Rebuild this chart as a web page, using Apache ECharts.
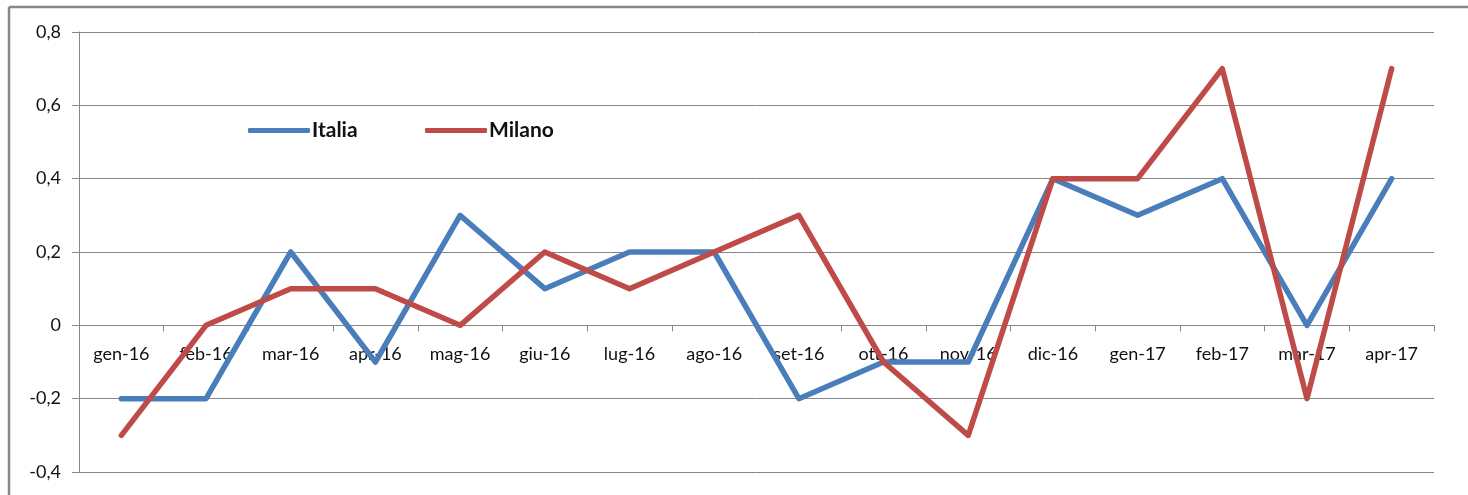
<!DOCTYPE html>
<html>
<head>
<meta charset="utf-8">
<script src="https://cdn.jsdelivr.net/npm/echarts@6/dist/echarts.min.js"></script>
<style>
html, body { margin: 0; padding: 0; background: #fff; }
#chart { width: 1468px; height: 495px; }
</style>
</head>
<body>
<div id="chart"></div>
<script>
// dati
var mesi = ['gen-16', 'feb-16', 'mar-16', 'apr-16', 'mag-16', 'giu-16', 'lug-16', 'ago-16',
            'set-16', 'ott-16', 'nov-16', 'dic-16', 'gen-17', 'feb-17', 'mar-17', 'apr-17'];
var italia = [-0.2, -0.2, 0.2, -0.1, 0.3, 0.1, 0.2, 0.2, -0.2, -0.1, -0.1, 0.4, 0.3, 0.4, 0, 0.4];
var milano = [-0.3, 0, 0.1, 0.1, 0, 0.2, 0.1, 0.2, 0.3, -0.1, -0.3, 0.4, 0.4, 0.7, -0.2, 0.7];
var yMin = -0.4, yMax = 0.8, yStep = 0.2;

var blu = '#4a7ebb';
var rosso = '#be4b48';
var grigio = '#868686';
var font = 'Lato, "Open Sans", sans-serif';

var myChart = echarts.init(document.getElementById('chart'));

// distanza in px fra il fondo del grid e la linea dello zero
var gridTop = 32, gridBottom = 23;
var plotH = 495 - gridTop - gridBottom;
var zeroOffset = plotH * (0 - yMin) / (yMax - yMin);

var option = {
    animation: false,
    textStyle: { fontFamily: font },
    grid: { left: 79, right: 34, top: gridTop, bottom: gridBottom, outerBoundsMode: 'none', containLabel: false },
    // cornice esterna (solo lato superiore e sinistro visibili)
    graphic: [
        { type: 'line', shape: { x1: 9, y1: 7, x2: 1468, y2: 7 }, style: { stroke: grigio, lineWidth: 2.5 } },
        { type: 'line', shape: { x1: 9, y1: 7, x2: 9, y2: 495 }, style: { stroke: grigio, lineWidth: 2.5 } }
    ],
    legend: [
        {
            data: ['Italia'], left: 243, top: 115,
            itemWidth: 62, itemHeight: 5, itemGap: 0,
            icon: 'roundRect',
            textStyle: { fontSize: 21, fontWeight: 'bold', color: '#111', fontFamily: font, padding: [0, 0, 0, -3] }
        },
        {
            data: ['Milano'], left: 420, top: 115,
            itemWidth: 62, itemHeight: 5, itemGap: 0,
            icon: 'roundRect',
            textStyle: { fontSize: 21, fontWeight: 'bold', color: '#111', fontFamily: font, padding: [0, 0, 0, -3] }
        }
    ],
    xAxis: {
        type: 'category',
        data: mesi,
        boundaryGap: true,
        position: 'bottom',
        offset: -zeroOffset,
        axisLine: { onZero: false, lineStyle: { color: grigio, width: 1 } },
        axisTick: { show: true, interval: 0, length: 6, lineStyle: { color: grigio } },
        axisLabel: { interval: 0, margin: 20, fontSize: 18, color: '#111', fontFamily: font },
        splitLine: { show: false }
    },
    yAxis: {
        type: 'value',
        min: yMin, max: yMax, interval: yStep,
        axisLine: { show: true, lineStyle: { color: grigio, width: 1 } },
        axisTick: { show: true, length: 7, lineStyle: { color: grigio } },
        axisLabel: {
            margin: 18, fontSize: 18, color: '#111', fontFamily: font,
            formatter: function (v) {
                return (Math.round(v * 10) / 10).toString().replace('.', ',');
            }
        },
        splitLine: { show: true, lineStyle: { color: grigio, width: 1 } }
    },
    series: [
        {
            name: 'Italia', type: 'line', data: italia,
            symbol: 'none', color: blu,
            lineStyle: { width: 5.5, color: blu, cap: 'round', join: 'round' },
            z: 2
        },
        {
            name: 'Milano', type: 'line', data: milano,
            symbol: 'none', color: rosso,
            lineStyle: { width: 5.5, color: rosso, cap: 'round', join: 'round' },
            z: 3
        }
    ]
};

myChart.setOption(option);
</script>
</body>
</html>
